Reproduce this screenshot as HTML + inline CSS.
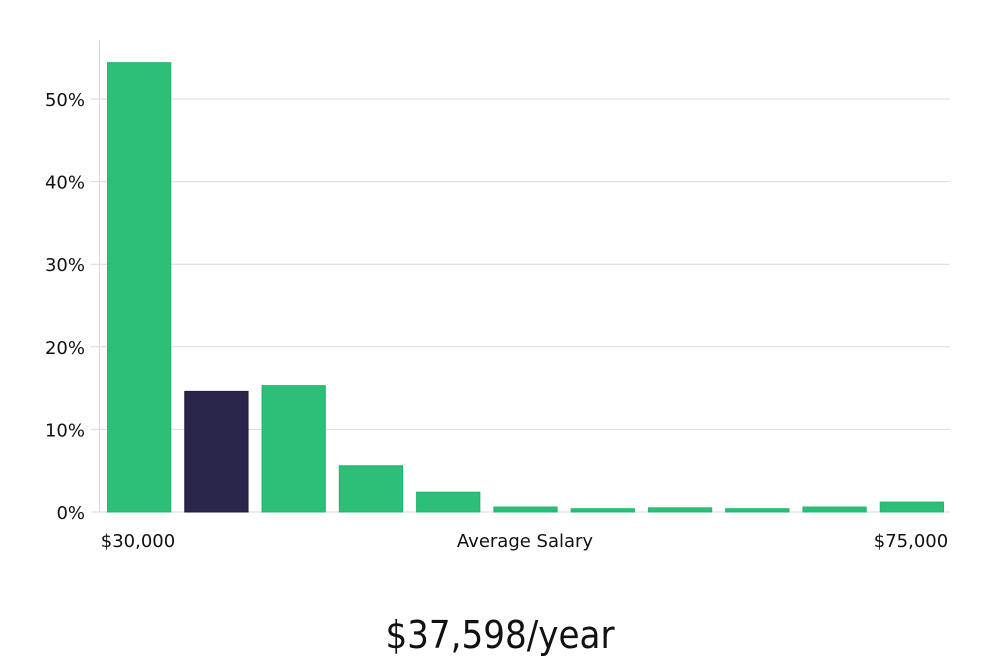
<!DOCTYPE html>
<html><head><meta charset="utf-8"><style>
body{margin:0;background:#fff;width:1000px;height:660px;overflow:hidden}
svg text{font-family:"DejaVu Sans","Liberation Sans",sans-serif;fill:#111}
</style></head><body>
<svg id="chart" width="1000" height="660">
<g id="grid"></g><g id="bars"></g><g id="axis"></g>
<text x="138" y="547" font-size="18" text-anchor="middle">$30,000</text>
<text x="525" y="547" font-size="18" text-anchor="middle">Average Salary</text>
<text x="911" y="547" font-size="18" text-anchor="middle">$75,000</text>
<text x="500" y="648" font-size="38" text-anchor="middle" style="font-stretch:condensed;font-family:'DejaVu Sans Condensed','DejaVu Sans',sans-serif">$37,598/year</text>
</svg>
<script>
const values=[54.4,14.6,15.3,5.6,2.4,0.6,0.4,0.5,0.4,0.6,1.2];
const highlight=[false,true,false,false,false,false,false,false,false,false,false];
const ticks=[0,10,20,30,40,50];
const NS="http://www.w3.org/2000/svg";
const x0=100,x1=950,y0=512,pxPer=8.26;
const y=v=>y0-v*pxPer;
const step=(x1-x0)/values.length;
const grid=document.getElementById('grid'),bars=document.getElementById('bars'),axis=document.getElementById('axis');
ticks.forEach(t=>{
 const l=document.createElementNS(NS,'line');
 
 
 l.setAttribute('x1',91);l.setAttribute('x2',x1);l.setAttribute('y1',y(t));l.setAttribute('y2',y(t));
 l.setAttribute('stroke','#d9d9d9');l.setAttribute('stroke-width','1');grid.appendChild(l);
 const tx=document.createElementNS(NS,'text');
 
 
 tx.setAttribute('x',85);tx.setAttribute('y',y(t)+7);tx.setAttribute('text-anchor','end');tx.setAttribute('font-size','18');
 tx.textContent=t+'%';axis.appendChild(tx);
});
const ax=document.createElementNS(NS,'line');


ax.setAttribute('x1',99.5);ax.setAttribute('x2',99.5);ax.setAttribute('y1',40);ax.setAttribute('y2',y0);
ax.setAttribute('stroke','#d9d9d9');axis.appendChild(ax);
values.forEach((v,i)=>{
 const r=document.createElementNS(NS,'rect');
 
 
 r.setAttribute('x',x0+i*step+7.5);r.setAttribute('width',step-14);
 r.setAttribute('y',y(v));r.setAttribute('height',v*pxPer);
 r.setAttribute('fill',highlight[i]?'#29264a':'#2bbf78');
 r.setAttribute('stroke',highlight[i]?'#1d1a3d':'#22b56d');
 bars.appendChild(r);
});
</script>
</body></html>
